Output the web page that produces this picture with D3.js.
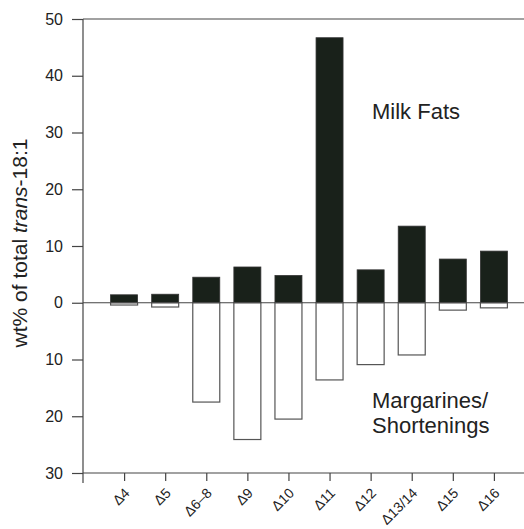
<!DOCTYPE html>
<html lang="en">
<head>
<meta charset="utf-8">
<title>trans-18:1 isomers</title>
<script src="https://d3js.org/d3.v7.min.js"></script>
<style>
  body { margin: 0; background: #fff; }
  svg text { font-family: "Liberation Sans", Arial, sans-serif; fill: #222; }
</style>
</head>
<body>
<svg id="chart" width="524" height="529"></svg>
<script>
// isomer positions and values
var isomers = ["\u03944", "\u03945", "\u03946\u20138", "\u03949", "\u039410", "\u039411", "\u039412", "\u039413/14", "\u039415", "\u039416"];
var milkFats = [1.4, 1.5, 4.5, 6.3, 4.8, 46.7, 5.8, 13.5, 7.7, 9.1];
var margarines = [0.4, 0.75, 17.5, 24.1, 20.5, 13.6, 10.9, 9.2, 1.3, 0.9];
var yTicks = [-30, -20, -10, 0, 10, 20, 30, 40, 50];

function drawChart() {
  var svg = d3.select("#chart");
  var plotL = 83, plotT = 19, plotB = 473, plotR = 535;

  var x = d3.scalePoint().domain(isomers).range([plotL, plotR]).padding(1);
  var y = d3.scaleLinear().domain([-30, 50]).range([plotB, plotT]);
  var barW = 27;
  var lineCol = "#444";

  // milk fats (up, filled)
  svg.append("g").selectAll("rect")
    .data(isomers)
    .enter().append("rect")
    .attr("x", function(d) { return x(d) - barW / 2; })
    .attr("y", function(d, i) { return y(milkFats[i]); })
    .attr("width", barW)
    .attr("height", function(d, i) { return y(0) - y(milkFats[i]); })
    .attr("fill", "#19211a")
    .attr("stroke", "#333")
    .attr("stroke-width", 0.8);

  // margarines / shortenings (down, open)
  svg.append("g").selectAll("rect")
    .data(isomers)
    .enter().append("rect")
    .attr("x", function(d) { return x(d) - barW / 2; })
    .attr("y", y(0))
    .attr("width", barW)
    .attr("height", function(d, i) { return y(-margarines[i]) - y(0); })
    .attr("fill", "#fff")
    .attr("stroke", "#555")
    .attr("stroke-width", 1.2);

  // frame lines: top, zero, bottom
  [50, 0, -30].forEach(function(v) {
    svg.append("line")
      .attr("x1", plotL).attr("x2", plotR)
      .attr("y1", y(v)).attr("y2", y(v))
      .attr("stroke", lineCol).attr("stroke-width", 1.2);
  });

  // y axis
  var yAxis = svg.append("g")
    .attr("transform", "translate(" + plotL + ",0)")
    .call(d3.axisLeft(y).tickValues(yTicks).tickSize(11).tickPadding(9)
      .tickFormat(function(d) { return Math.abs(d); }));
  yAxis.select(".domain").remove();
  yAxis.append("line").attr("x1", 0).attr("x2", 0)
    .attr("y1", plotT).attr("y2", plotB + 10)
    .attr("stroke", lineCol).attr("stroke-width", 1.2);
  yAxis.selectAll(".tick line").attr("stroke", lineCol).attr("stroke-width", 1.2);
  yAxis.selectAll(".tick text").style("font-size", "16px").attr("fill", "#222");

  // x axis
  var xAxis = svg.append("g")
    .attr("transform", "translate(0," + plotB + ")")
    .call(d3.axisBottom(x).tickSize(8).tickPadding(4));
  xAxis.select(".domain").remove();
  xAxis.selectAll(".tick line").attr("stroke", lineCol).attr("stroke-width", 1.2);
  xAxis.selectAll(".tick text")
    .style("font-size", "14px")
    .attr("fill", "#222")
    .attr("text-anchor", "end")
    .attr("y", 0)
    .attr("dy", null)
    .attr("transform", "translate(6,21) rotate(-45)");

  // y label
  svg.append("text")
    .attr("transform", "translate(27,243) rotate(-90)")
    .attr("text-anchor", "middle")
    .style("font-size", "21px")
    .html('wt% of total <tspan font-style="italic">trans</tspan>-18:1');

  // series labels
  svg.append("text").attr("x", 372).attr("y", 119)
    .style("font-size", "22px").text("Milk Fats");
  svg.append("text").attr("x", 372).attr("y", 408)
    .style("font-size", "22px").text("Margarines/");
  svg.append("text").attr("x", 372).attr("y", 433)
    .style("font-size", "22px").text("Shortenings");
}
drawChart();
</script>
</body>
</html>
